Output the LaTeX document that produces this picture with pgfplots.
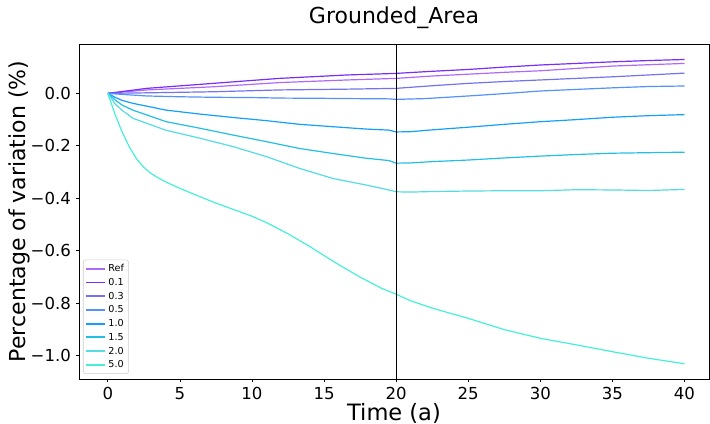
\documentclass[border=0pt]{standalone}
\usepackage{fontspec}
\setmainfont{DejaVu Sans}
\usepackage{pgfplots}
\usepackage{pgfplotstable}
\pgfplotsset{compat=1.18}

\definecolor{cref}{RGB}{175,105,250}
\definecolor{c01}{RGB}{120,45,250}
\definecolor{c03}{RGB}{115,115,240}
\definecolor{c05}{RGB}{85,145,250}
\definecolor{c10}{RGB}{20,160,250}
\definecolor{c15}{RGB}{35,190,230}
\definecolor{c20}{RGB}{85,220,225}
\definecolor{c50}{RGB}{70,240,215}

\pgfplotstableread{
t v
0 0
2.7 0.013
7.3 0.025
11.9 0.041
16.6 0.051
20 0.057
22.5 0.066
25 0.073
27.5 0.080
30 0.086
32.5 0.095
35 0.104
37.5 0.109
40 0.114
}\dataref
\pgfplotstableread{
t v
0 0
2.7 0.019
7.3 0.038
11.9 0.057
16.6 0.070
20 0.076
22.5 0.084
25 0.091
27.5 0.100
30 0.108
32.5 0.114
35 0.120
37.5 0.125
40 0.129
}\dataa
\pgfplotstableread{
t v
0 0
2.7 0.002
7.3 0.006
11.9 0.013
16.6 0.016
20 0.019
22.5 0.029
25 0.038
27.5 0.045
30 0.051
32.5 0.057
35 0.063
37.5 0.070
40 0.077
}\datab
\pgfplotstableread{
t v
0 0
1 -0.004
2.7 -0.010
5 -0.013
7.3 -0.015
10 -0.016
12 -0.018
15 -0.019
17 -0.020
19.5 -0.021
20 -0.023
22 -0.020
25 -0.010
27.5 -0.001
30 0.009
32.5 0.015
35 0.021
37.5 0.026
40 0.028
}\datac
\pgfplotstableread{
t v
0 0
0.5 -0.015
1 -0.027
1.74 -0.038
4.05 -0.064
6.4 -0.079
8.7 -0.092
11 -0.104
13.3 -0.118
15.6 -0.127
17.9 -0.136
19.5 -0.140
20 -0.147
21 -0.146
22.5 -0.139
25 -0.129
27.5 -0.118
30 -0.108
32.5 -0.100
35 -0.091
37.5 -0.085
40 -0.081
}\datad
\pgfplotstableread{
t v
0 0
0.5 -0.025
1 -0.045
1.74 -0.064
4.05 -0.108
6.4 -0.133
8.7 -0.159
11 -0.184
13.3 -0.210
15.6 -0.229
17.9 -0.247
19.5 -0.256
20 -0.266
21 -0.265
22.5 -0.260
25 -0.254
27.5 -0.246
30 -0.239
32.5 -0.233
35 -0.228
37.5 -0.226
40 -0.224
}\datae
\pgfplotstableread{
t v
0 0
0.5 -0.040
1 -0.065
1.74 -0.095
3 -0.120
4 -0.140
6.4 -0.171
8.7 -0.203
11 -0.241
13.3 -0.286
15.6 -0.324
17.9 -0.349
19.5 -0.368
20 -0.375
21 -0.376
22.5 -0.374
25 -0.372
27.5 -0.371
30 -0.371
32.5 -0.367
35 -0.368
37.5 -0.370
40 -0.366
}\dataf
\pgfplotstableread{
t v
0 0
0.5 -0.080
1 -0.148
1.5 -0.205
2 -0.250
2.5 -0.282
3 -0.305
3.5 -0.322
4 -0.337
5 -0.362
6 -0.385
7.5 -0.418
10 -0.468
11 -0.492
12.5 -0.535
14 -0.583
15 -0.618
16 -0.652
17.5 -0.700
19 -0.743
20 -0.765
21 -0.790
22.5 -0.818
25 -0.857
27.5 -0.900
30 -0.933
32.5 -0.958
35 -0.984
37.5 -1.009
40 -1.030
}\datag

\begin{document}
\begin{tikzpicture}
\useasboundingbox (-59.25pt,-33.75pt) rectangle (473.25pt,284.25pt);
\begin{axis}[
    scale only axis,
    width=472.5pt,
    height=251.25pt,
    xmin=-2, xmax=41.7,
    ymin=-1.088, ymax=0.188,
    axis line style={black, line width=0.7pt},
    tick align=outside,
    tick pos=left,
    major tick length=2.6pt,
    tick style={black, line width=0.6pt},
    xtick={0,5,...,40},
    ytick={-1.0,-0.8,-0.6,-0.4,-0.2,0.0},
    yticklabels={−1.0,−0.8,−0.6,−0.4,−0.2,0.0},
    ticklabel style={font=\fontsize{12.4}{14}\selectfont},
    /pgf/number format/assume math mode=true,
    xlabel={Time (a)},
    ylabel={Percentage of variation (\%)},
    xlabel style={at={(axis description cs:0.5,-0.1015)}, anchor=center, font=\fontsize{16.9}{19}\selectfont},
    ylabel style={at={(axis description cs:-0.0952,0.5)}, anchor=center, font=\fontsize{16.5}{19}\selectfont},
    title={Grounded\_Area},
    every axis title shift=0pt,
    title style={at={(axis description cs:0.5,1.0776)}, anchor=center, font=\fontsize{16.5}{19}\selectfont},
    legend cell align=left,
    legend image code/.code={\draw[#1, line width=1.4pt] (0pt,0pt) -- (14pt,0pt);},
    legend style={at={(0.0063,0.015)}, anchor=south west, draw=black!20,
        rounded corners=2pt, fill=white,
        font=\fontsize{7.2}{8}\selectfont, inner sep=1.5pt,
        nodes={text height=5.5pt, text depth=1pt, inner ysep=1.9pt}},
    every axis plot/.append style={line width=0.9pt},
]
\addplot[cref] table[x=t,y=v] {\dataref};
\addlegendentry{Ref}
\addplot[c01] table[x=t,y=v] {\dataa};
\addlegendentry{0.1}
\addplot[c03] table[x=t,y=v] {\datab};
\addlegendentry{0.3}
\addplot[c05] table[x=t,y=v] {\datac};
\addlegendentry{0.5}
\addplot[c10] table[x=t,y=v] {\datad};
\addlegendentry{1.0}
\addplot[c15] table[x=t,y=v] {\datae};
\addlegendentry{1.5}
\addplot[c20] table[x=t,y=v] {\dataf};
\addlegendentry{2.0}
\addplot[c50] table[x=t,y=v] {\datag};
\addlegendentry{5.0}
\addplot[black, line width=1pt, forget plot] coordinates {(20,-1.088) (20,0.188)};
\end{axis}
\end{tikzpicture}
\end{document}
